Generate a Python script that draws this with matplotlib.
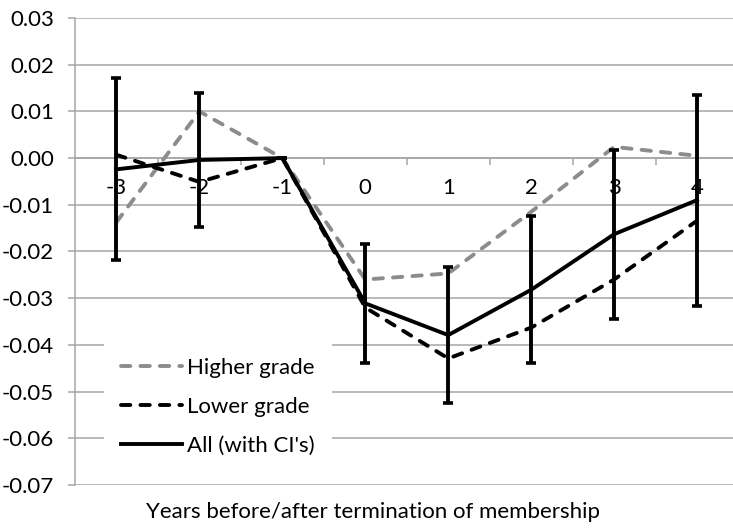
import matplotlib.pyplot as plt
import numpy as np
from matplotlib.lines import Line2D
from matplotlib.ticker import FixedLocator, FormatStrFormatter

plt.rcParams['font.family'] = ['Lato', 'DejaVu Sans']

years = ['-3', '-2', '-1', '0', '1', '2', '3', '4']
higher = [-0.0137, 0.0100, 0.0, -0.0260, -0.0247, -0.0115, 0.0024, 0.0005]
lower = [0.0007, -0.0051, 0.0, -0.0320, -0.0429, -0.0363, -0.0260, -0.0134]
all_members = [-0.0024, -0.0004, 0.0, -0.0311, -0.0379, -0.0282, -0.0163, -0.0090]
ci_half = [0.0195, 0.0144, 0.0, 0.0127, 0.0145, 0.0157, 0.0181, 0.0226]

W, H = 733, 531
fig = plt.figure(figsize=(W / 100, H / 100), dpi=100)
ax = fig.add_axes([75 / W, (H - 485) / H, (738.5 - 75) / W, (485 - 18) / H])

x = np.arange(len(years))
grey = '#8c8c8c'
lw = 2.8
dash = (0, (2.4, 2.6))
fs = 16

ax.plot(x, higher, color=grey, lw=lw, ls=dash, dash_capstyle='round', zorder=3)
ax.plot(x, lower, color='black', lw=lw, ls=dash, dash_capstyle='round', zorder=3)
ax.errorbar(x, all_members, yerr=ci_half, color='black', lw=lw, elinewidth=2.8,
            capsize=3.3, capthick=2.6, zorder=4)

ax.set_xlim(-0.5, len(years) - 0.5)
ax.set_ylim(-0.07, 0.03)
ax.yaxis.set_major_locator(FixedLocator(np.arange(-0.07, 0.031, 0.01)))
ax.yaxis.set_major_formatter(FormatStrFormatter('%.2f'))
ax.grid(axis='y', color='#a6a6a6', lw=1.1)
ax.set_axisbelow(True)

for side in ['top', 'right']:
    ax.spines[side].set_visible(False)
ax.spines['left'].set_color('#a6a6a6')
ax.spines['left'].set_linewidth(1.1)
ax.spines['bottom'].set_position(('data', 0))
ax.spines['bottom'].set_color('#a6a6a6')
ax.spines['bottom'].set_linewidth(1.1)

ax.set_xticks(x)
ax.set_xticklabels(years)
ax.set_xticks(np.arange(0.5, len(years) - 0.5), minor=True)
ax.tick_params(axis='x', which='major', length=0, pad=14, labelsize=fs)
ax.tick_params(axis='x', which='minor', length=5, width=1.1, color='#a6a6a6', direction='out')
ax.tick_params(axis='y', length=5, width=1.1, color='#a6a6a6', pad=10, labelsize=fs)

handles = [
    Line2D([], [], color=grey, lw=lw, ls=dash, dash_capstyle='round'),
    Line2D([], [], color='black', lw=lw, ls=dash, dash_capstyle='round'),
    Line2D([], [], color='black', lw=lw),
]
labels = ['Higher grade', 'Lower grade', "All (with CI's)"]
ax.legend(handles, labels, loc='center left', bbox_to_anchor=(104 / W, (H - 407) / H),
          bbox_transform=fig.transFigure, fontsize=fs, handlelength=2.75,
          handletextpad=0.25, labelspacing=0.85, borderpad=0.75, borderaxespad=0,
          frameon=True, fancybox=False, edgecolor='none', framealpha=1)

fig.text(373 / W, (H - 512) / H, 'Years before/after termination of membership',
         ha='center', va='center', fontsize=fs)

fig.savefig('out.png', dpi=100)
